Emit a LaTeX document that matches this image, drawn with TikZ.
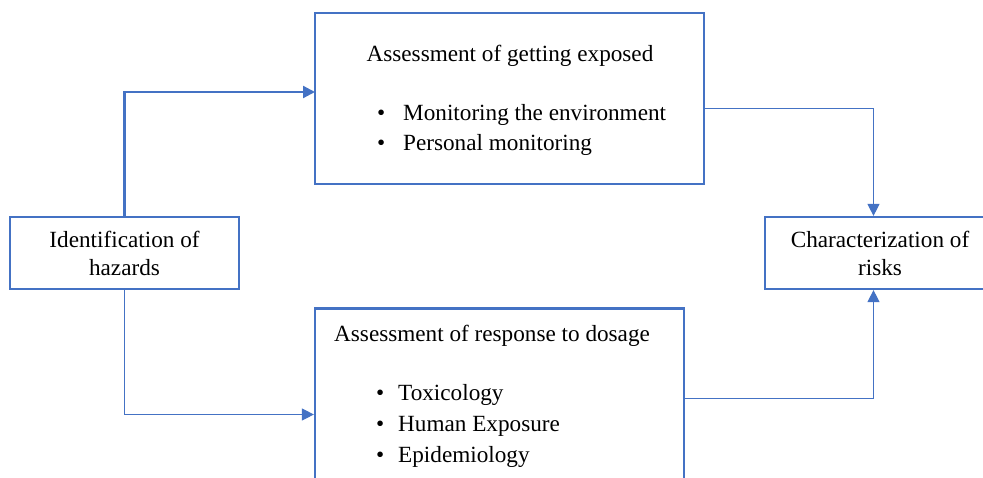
\documentclass[tikz,border=0pt]{standalone}
\usepackage{fontspec}
\setmainfont{Liberation Serif}
\usetikzlibrary{arrows.meta,positioning}
\definecolor{wordblue}{HTML}{4472C4}

\begin{document}
\begin{tikzpicture}[
x=1pt,y=-1pt,
>={Triangle[length=12pt,width=12pt]},
box/.style={
	draw=wordblue,
	line width=2.2pt,
	rectangle,
	inner sep=0pt
},
txt/.style={
	font=\fontsize{23.2pt}{28pt}\selectfont,
	inner sep=0pt
},
link/.style={
	->,
	draw=wordblue,
	line width=1.1pt
},
mainlink/.style={
	->,
	draw=wordblue,
	line width=2.2pt
}
]
\useasboundingbox (0,0) rectangle (983,477);

\node[box,txt,minimum width=229pt,minimum height=72pt,align=center] (ident) at (124.5,253) {Identification of\\hazards};
\node[box,txt,minimum width=230pt,minimum height=72pt,align=center] (risk) at (880,253) {Characterization of\\risks};

\node[box,minimum width=389pt,minimum height=171pt] (expo) at (509.5,98.5) {};
\node[box,minimum width=369pt,minimum height=212pt] (resp) at (499.5,414.5) {};

\node[txt,anchor=base] (expotitle) at (510,61) {Assessment of getting exposed};
\foreach \i/\t in {1/Monitoring the environment,2/Personal monitoring}
\node[txt,anchor=base west] (expoitem\i) at (377,90+30*\i) {\makebox[26pt][l]{\textbullet}\t};

\node[txt,anchor=base west] (resptitle) at (334,341) {Assessment of response to dosage};
\foreach \i/\t in {1/Toxicology,2/Human Exposure,3/Epidemiology}
\node[txt,anchor=base west] (respitem\i) at (376,369+31*\i) {\makebox[22pt][l]{\textbullet}\t};

\coordinate (expoin) at (315,92);
\coordinate (expoout) at (704,108.5);

\draw[mainlink] (ident.north) |- (expoin);
\draw[link] (ident.south) |- (resp.west);
\draw[link] (expoout) -| ([xshift=-6.5pt]risk.north);
\draw[link] ([yshift=16pt]resp.east) -| ([xshift=-6.5pt]risk.south);
\end{tikzpicture}
\end{document}
